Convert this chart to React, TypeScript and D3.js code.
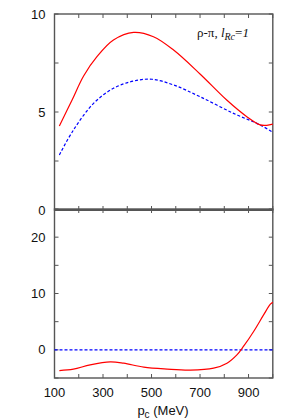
import { useEffect, useRef } from "react";
import * as d3 from "d3";

// momentum p_c (MeV)
const topX = [120, 172, 220, 275, 343, 426, 508, 591, 700, 810, 893, 948, 975, 1000];
const topRed = [4.29, 5.6, 6.84, 7.82, 8.67, 9.06, 8.84, 8.16, 6.94, 5.61, 4.76, 4.34, 4.32, 4.38];
const topBlueX = [120, 178, 261, 343, 426, 502, 591, 700, 838, 948, 1000];
const topBlue = [2.81, 4.08, 5.44, 6.21, 6.58, 6.67, 6.38, 5.78, 4.93, 4.34, 3.96];

const botX = [120, 178, 247, 330, 385, 468, 564, 660, 756, 811, 852, 879, 921, 962, 990, 1000];
const botRed = [-3.68, -3.43, -2.66, -2.13, -2.37, -3.08, -3.43, -3.61, -3.26, -2.37, -0.89, 0.6, 3.26, 6.2, 8.1, 8.46];
const botBlueX = [100, 1000];
const botBlue = [0, 0];

const xTicks = [100, 200, 300, 400, 500, 600, 700, 800, 900, 1000];
const xLabels = [100, 300, 500, 700, 900];
const topYTicks = [0, 2.5, 5, 7.5, 10];
const topYLabels = [0, 5, 10];
const botYTicks = [-5, 0, 5, 10, 15, 20, 25];
const botYLabels = [0, 10, 20];

export default function App() {
  const ref = useRef<SVGSVGElement>(null);

  useEffect(() => {
    if (!ref.current) return;
    const svg = d3.select(ref.current);
    svg.selectAll("*").remove();

    const left = 54.5, right = 272.8;
    const x = d3.scaleLinear().domain([100, 1000]).range([left, right]);
    const yTop = d3.scaleLinear().domain([0, 10]).range([210, 14]);
    const yBot = d3.scaleLinear().domain([-5, 25]).range([378, 209]);

    const frame = "#555";
    const font = "Liberation Sans, Arial, sans-serif";
    const tickLen = 4;

    const panel = (y: d3.ScaleLinear<number, number>, yTicks: number[], yLabels: number[]) => {
      const [y0, y1] = y.range();
      const g = svg.append("g");
      // ticks
      xTicks.forEach((t) => {
        g.append("line").attr("x1", x(t)).attr("x2", x(t)).attr("y1", y0).attr("y2", y0 - tickLen)
          .attr("stroke", frame).attr("stroke-width", 1);
        g.append("line").attr("x1", x(t)).attr("x2", x(t)).attr("y1", y1).attr("y2", y1 + tickLen)
          .attr("stroke", frame).attr("stroke-width", 1);
      });
      yTicks.forEach((t) => {
        g.append("line").attr("x1", left).attr("x2", left + tickLen).attr("y1", y(t)).attr("y2", y(t))
          .attr("stroke", frame).attr("stroke-width", 1);
        g.append("line").attr("x1", right).attr("x2", right - tickLen).attr("y1", y(t)).attr("y2", y(t))
          .attr("stroke", frame).attr("stroke-width", 1);
      });
      g.selectAll("text.yl")
        .data(yLabels)
        .join("text")
        .attr("class", "yl")
        .attr("x", left - 9)
        .attr("y", (d) => y(d))
        .attr("dy", "0.35em")
        .attr("text-anchor", "end")
        .style("font-family", font)
        .style("font-size", "13px")
        .attr("fill", "#111")
        .text((d) => d);
      g.append("rect")
        .attr("x", left).attr("y", y1)
        .attr("width", right - left).attr("height", y0 - y1)
        .attr("fill", "none").attr("stroke", frame).attr("stroke-width", 1.4);
      return g;
    };

    panel(yTop, topYTicks, topYLabels);
    panel(yBot, botYTicks, botYLabels);

    const curve = (xs: number[], ys: number[], y: d3.ScaleLinear<number, number>, color: string, dash?: string) => {
      const line = d3.line<number>()
        .x((_, i) => x(xs[i]))
        .y((d) => y(d))
        .curve(d3.curveCatmullRom);
      svg.append("path")
        .datum(ys)
        .attr("d", line)
        .attr("fill", "none")
        .attr("stroke", color)
        .attr("stroke-width", 1.2)
        .attr("stroke-dasharray", dash || null);
    };

    curve(topBlueX, topBlue, yTop, "#0000ff", "3,2");
    curve(topX, topRed, yTop, "#ff0000");
    curve(botBlueX, botBlue, yBot, "#0000ff", "3,2");
    curve(botX, botRed, yBot, "#ff0000");

    // divider between panels
    svg.append("line").attr("x1", left).attr("x2", right).attr("y1", 210).attr("y2", 210)
      .attr("stroke", frame).attr("stroke-width", 2);

    // x labels
    svg.selectAll("text.xl")
      .data(xLabels)
      .join("text")
      .attr("class", "xl")
      .attr("x", (d) => x(d))
      .attr("y", 397)
      .attr("text-anchor", "middle")
      .style("font-family", font)
      .style("font-size", "13px")
      .attr("fill", "#111")
      .text((d) => d);

    const xt = svg.append("text")
      .attr("x", 163).attr("y", 415)
      .attr("text-anchor", "middle")
      .style("font-family", font)
      .style("font-size", "13px")
      .attr("fill", "#111");
    xt.append("tspan").text("p");
    xt.append("tspan").attr("dy", 3).style("font-size", "10px").text("c");
    xt.append("tspan").attr("dy", -3).text(" (MeV)");

    const ann = svg.append("text")
      .attr("x", 197).attr("y", 37)
      .style("font-family", "Liberation Serif, Times New Roman, serif")
      .style("font-size", "13px")
      .attr("fill", "#111");
    ann.append("tspan").text("ρ-π, ");
    ann.append("tspan").style("font-style", "italic").text("l");
    ann.append("tspan").attr("dy", 3).style("font-style", "italic").style("font-size", "10px").text("Rc");
    ann.append("tspan").attr("dy", -3).text("=");
    ann.append("tspan").style("font-style", "italic").text("1");
  }, []);

  return (
    <svg ref={ref} width={294} height={420}
      style={{ position: "absolute", left: 0, top: 0, background: "#fff" }} />
  );
}
